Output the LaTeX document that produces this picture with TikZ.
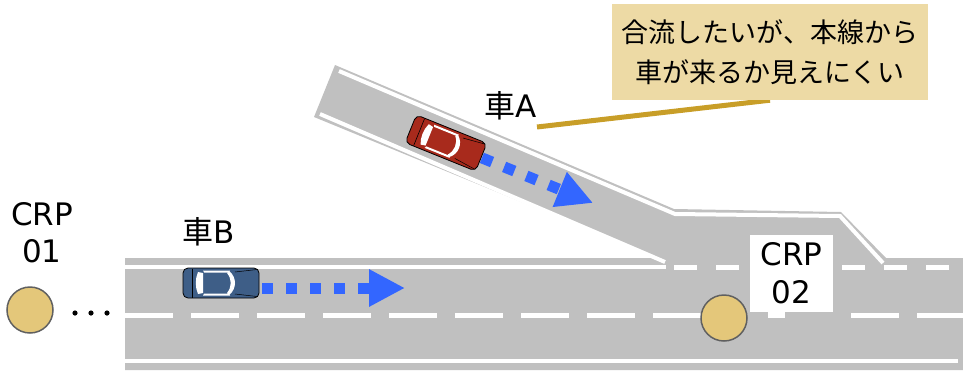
\documentclass[tikz,border=0pt]{standalone}
\usepackage{fontspec}
\setmainfont{DejaVu Sans}
\newfontfamily\jp{Noto Sans CJK JP}
\usetikzlibrary{arrows.meta,calc,backgrounds}

\definecolor{road}{RGB}{192,192,192}
\definecolor{crpfill}{RGB}{228,199,122}
\definecolor{crpedge}{RGB}{96,96,96}
\definecolor{notefill}{RGB}{237,218,165}
\definecolor{leader}{RGB}{200,158,40}
\definecolor{flow}{RGB}{51,102,255}
\definecolor{carred}{RGB}{168,42,28}
\definecolor{carblue}{RGB}{62,94,135}

\tikzset{
  lane/.style={white, line width=4},
  crp/.style={circle, fill=crpfill, draw=crpedge, line width=1.5, minimum size=46, inner sep=0},
  lbl/.style={inner sep=0, font=\fontsize{31}{37}\selectfont, align=center},
  note/.style={fill=notefill, minimum width=316, minimum height=96, inner sep=0,
    align=center, font=\jp\fontsize{27}{40}\selectfont},
  leaderline/.style={leader, line width=5},
  flowline/.style={flow, line width=11, dash pattern=on 11 off 13,
    -{Triangle[length=36pt,width=35pt]}},
  pics/car/.style={code={
    % body
    \draw[fill=#1, line width=0.8, rounded corners=5] (-38,-15) rectangle (38,15);
    % rear deck
    \draw[line width=0.6] (-29,-14.5) -- (-29,14.5);
    % rear window
    \fill[white] (-23,-11) .. controls (-26,-4) and (-26,4) .. (-23,11)
      -- (-18,10) -- (-18,-10) -- cycle;
    % side windows
    \fill[white] (-18,-12.5) -- (9,-12.5) -- (8,-10.5) -- (-17,-10.5) -- cycle;
    \fill[white] (-18,12.5) -- (9,12.5) -- (8,10.5) -- (-17,10.5) -- cycle;
    % windshield
    \fill[white] (8,-12) .. controls (16,-6) and (16,6) .. (8,12)
      -- (6,10) .. controls (11,4) and (11,-4) .. (6,-10) -- cycle;
    % hood creases
    \draw[line width=0.5] (14,-11) -- (36,-13.5);
    \draw[line width=0.5] (14,11) -- (36,13.5);
  }}
}

\begin{document}
\begin{tikzpicture}[x=1pt,y=-1pt]
\useasboundingbox (0,0) rectangle (963,370);

% main road with the on-ramp merging from the upper left
\fill[road] (125,258) -- (658,258) -- (314,117) -- (335,65) -- (674,209)
  -- (841,212) -- (886,258) -- (963,258) -- (963,370) -- (125,370) -- cycle;

% solid edge lines
\draw[lane] (125,267) -- (666,267);
\draw[lane] (320,114) -- (665,262);
\draw[lane] (339,71) -- (675,214) -- (840,216) -- (883,263);
\draw[lane] (125,361) -- (958,361);

% centre lane markings
\foreach \k in {0,...,8,11,12}
  \fill[white] ({125+66*\k},312.5) rectangle +(48,5);
\fill[white] (768,312) rectangle (785,318);

% merge-zone lane markings
\foreach \k in {0,...,6}
  \fill[white] ({674+42*\k},264.5) rectangle +(23,5);

% reference points
\node[lbl, fill=white, minimum width=83, minimum height=77] (crp2lbl) at (791.5,273.5) {CRP\\[1pt]02};
\node[lbl] (crp1lbl) at (42,232.5) {CRP\\01};
\node[crp] (crp1) at (30,310) {};
\node[crp] (crp2) at (724,318) {};
\foreach \x [count=\i] in {75,91,107}
  \fill (\x,313) circle (2.6) coordinate (dot\i);

% vehicles
\pic at (221,283) {car=carblue};
\pic[rotate=-22] at (446,143) {car=carred};

% travel directions
\coordinate (flowB0) at (262,288);
\coordinate (flowB1) at (405,288);
\coordinate (flowA0) at (481.9,157.9);
\coordinate (flowA1) at (593.1,203.0);
\draw[flowline] (flowB0) -- (flowB1);
\draw[flowline] (flowA0) -- (flowA1);

% labels
\node[lbl] (lblA) at (510.5,106) {{\jp 車}A};
\node[lbl] (lblB) at (209,232) {{\jp 車}B};

% callout
\node[note] (note) at (770,52) {合流したいが、本線から\\車が来るか見えにくい};
\coordinate (foot) at (537,127);
\begin{pgfonlayer}{background}
\draw[leaderline] (foot) -- (note.south);
\end{pgfonlayer}
\end{tikzpicture}
\end{document}
